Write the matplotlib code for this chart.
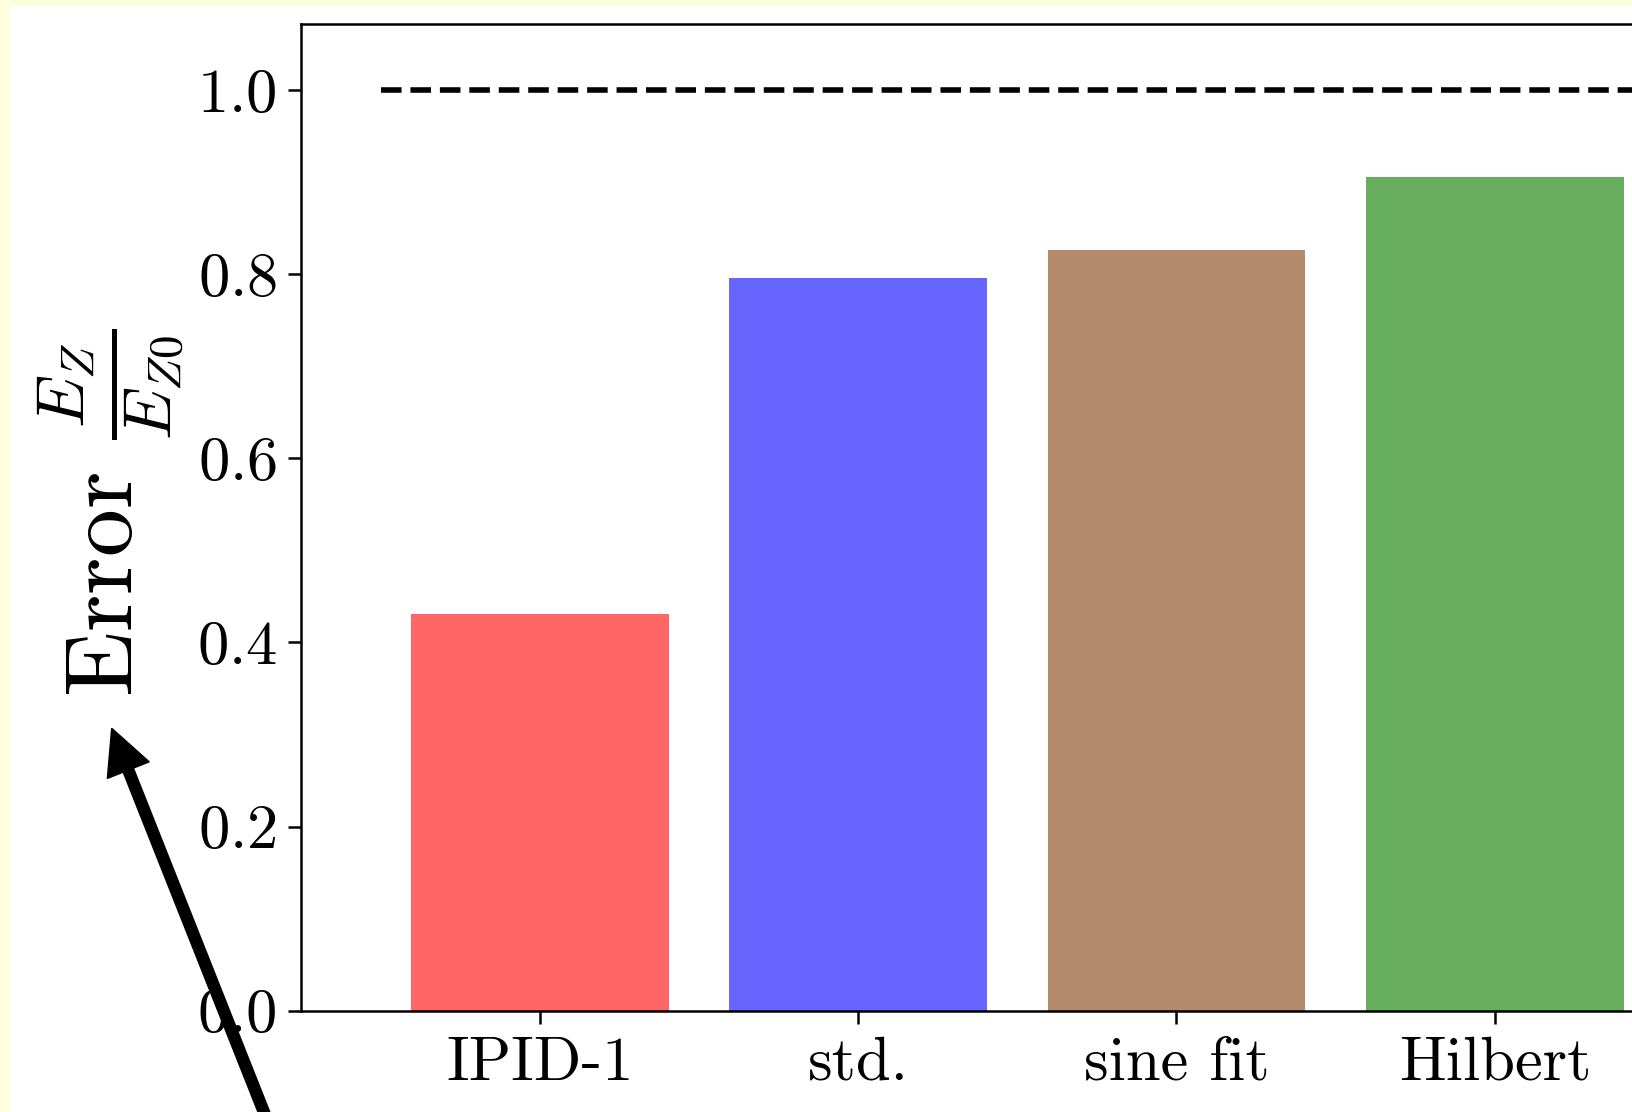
import matplotlib
matplotlib.use("Agg")
import matplotlib.pyplot as plt
from matplotlib.patches import Rectangle, FancyArrow

plt.rcParams["font.family"] = "serif"
plt.rcParams["font.serif"] = ["cmr10"]
plt.rcParams["mathtext.fontset"] = "cm"
plt.rcParams["axes.formatter.use_mathtext"] = True

# Data
methods = ["IPID-1", "std.", "sine fit", "Hilbert"]
errors = [0.431, 0.796, 0.826, 0.905]
bar_colors = ["#FF6666", "#6666FF", "#B38B6D", "#66AE5E"]
baseline = 1.0
yticks = [0.0, 0.2, 0.4, 0.6, 0.8, 1.0]

W, H = 1632, 1112
fig = plt.figure(figsize=(W / 100, H / 100), dpi=100)
fig.patch.set_facecolor("white")

# Page frame strips
fig.patches.append(Rectangle((0, 1 - 6 / H), 1, 6 / H, transform=fig.transFigure,
                             facecolor="#FFFEDC", edgecolor="none", zorder=0))
fig.patches.append(Rectangle((0, 0), 10 / W, 1, transform=fig.transFigure,
                             facecolor="#FFFEDC", edgecolor="none", zorder=0))

ax_left = 301 / W
ax_bottom = (H - 1010.7) / H
ax_height = 987 / H
ax_width = 1353 / W
ax = fig.add_axes([ax_left, ax_bottom, ax_width, ax_height])

x = list(range(len(methods)))
ax.bar(x, errors, width=0.81, color=bar_colors, zorder=2)
ax.hlines(baseline, -0.5, len(methods) - 0.5, colors="black", linestyles="--",
          linewidth=4.0, zorder=3)

ax.set_xlim(-0.75, len(methods) - 0.5)
ax.set_ylim(0, 1.072)
ax.set_xticks(x)
ax.set_xticklabels(methods)
ax.set_yticks(yticks)

for sp in ax.spines.values():
    sp.set_linewidth(1.8)
ax.tick_params(axis="both", length=9.4, width=1.8, labelsize=45, pad=8)
ax.tick_params(axis="x", pad=9)

ax.set_ylabel(r"Error $\frac{E_Z}{E_{Z0}}$", fontsize=69)
ax.yaxis.set_label_coords(-0.084, 0.505)

# Pointer arrow over the axis label
ov = fig.add_axes([0, 0, 1, 1], facecolor="none")
ov.set_xlim(0, W)
ov.set_ylim(H, 0)
ov.axis("off")
tip = (111.7, 728.3)
tail = (271.0, 1130.0)
ov.add_patch(FancyArrow(tail[0], tail[1], tip[0] - tail[0], tip[1] - tail[1],
                        width=11, head_width=45, head_length=45,
                        length_includes_head=True, color="black", zorder=10))

fig.savefig("out.png", dpi=100)
